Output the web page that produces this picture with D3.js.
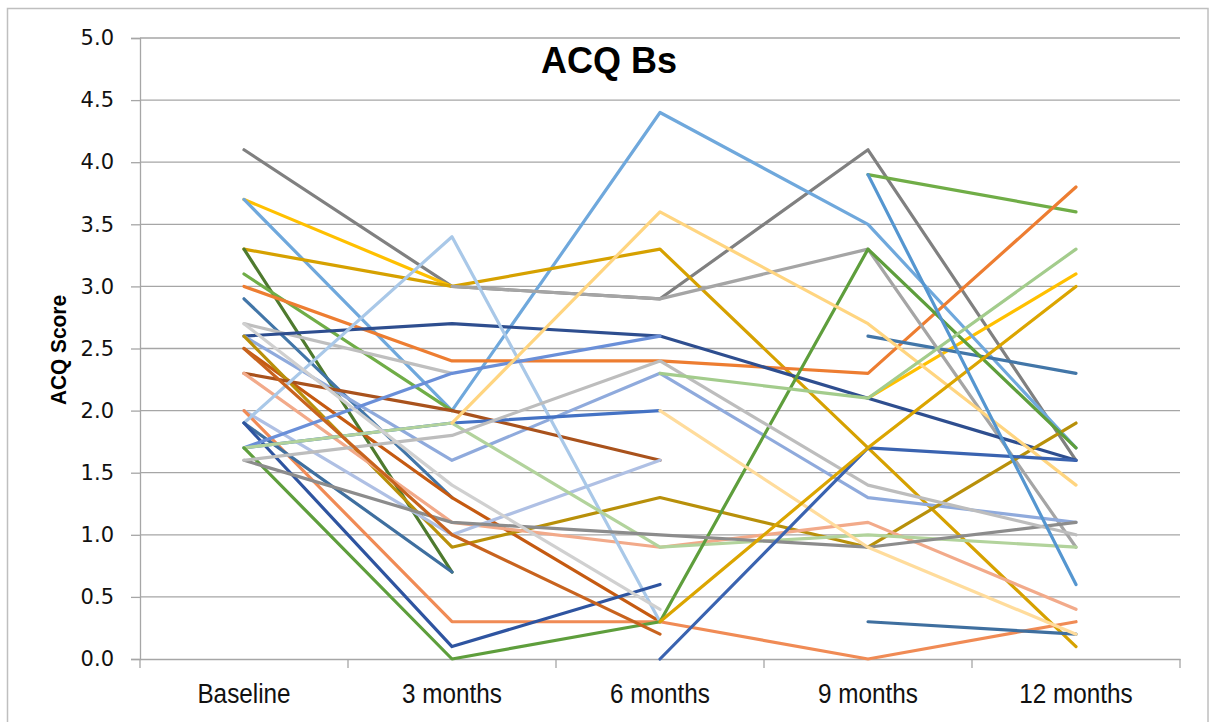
<!DOCTYPE html>
<html>
<head>
<meta charset="utf-8">
<script src="https://cdn.jsdelivr.net/npm/d3@7"></script>
<style>
  html, body { margin: 0; padding: 0; background: #fff; }
  svg { display: block; }
</style>
</head>
<body>
<svg id="chart" width="1210" height="722"></svg>
<script>
// ACQ scores per patient over five visits (null = visit not recorded)
const categories = ["Baseline", "3 months", "6 months", "9 months", "12 months"];
const yTicks = [0, 0.5, 1, 1.5, 2, 2.5, 3, 3.5, 4, 4.5, 5];

const p01 = [4.1, 3.0, 2.9, 4.1, 1.6];
const p02 = [3.7, 3.0, null, 2.1, 3.1];
const p03 = [3.7, 2.0, 4.4, 3.5, 1.7];
const p04 = [3.3, 3.0, 3.3, 1.7, 0.1];
const p05 = [3.3, 0.7, null, null, null];
const p06 = [3.1, 2.0, null, 3.9, 3.6];
const p07 = [3.0, 2.4, 2.4, 2.3, 3.8];
const p08 = [2.9, 1.3, null, 2.6, 2.3];
const p09 = [2.7, 2.3, null, null, null];
const p10 = [null, 3.0, 2.9, 3.3, 0.9];
const p11 = [2.6, 2.7, 2.6, 2.1, 1.6];
const p12 = [2.6, 1.6, 2.3, 1.3, 1.1];
const p13 = [2.5, 1.3, 0.3, null, null];
const p14 = [2.6, 0.9, 1.3, 0.9, 1.9];
const p15 = [2.3, 2.0, 1.6, null, null];
const p16 = [2.3, 1.1, 0.9, 1.1, 0.4];
const p17 = [2.0, 1.0, 1.6, null, null];
const p18 = [2.0, 0.3, 0.3, 0.0, 0.3];
const p19 = [1.9, 3.4, 0.3, null, null];
const p20 = [1.9, 0.7, null, 0.3, 0.2];
const p21 = [1.9, 0.1, 0.6, null, null];
const p22 = [1.7, 1.9, 2.0, null, null];
const p23 = [1.7, 2.3, 2.6, null, null];
const p24 = [1.7, 1.9, 0.9, 1.0, 0.9];
const p25 = [1.7, 0.0, 0.3, 3.3, 1.7];
const p26 = [1.6, 1.1, 1.0, 0.9, 1.1];
const p27 = [1.6, 1.8, 2.4, 1.4, 1.0];
const p28 = [2.7, 1.4, 0.4, null, null];
const p29 = [2.5, 1.0, 0.2, null, null];
const p30 = [null, 1.9, 3.6, 2.7, 1.4];
const p31 = [null, null, 2.0, 0.9, 0.2];
const p32 = [null, null, 0.0, 1.7, 1.6];
const p33 = [null, null, 0.3, 1.7, 3.0];
const p34 = [null, null, 2.3, 2.1, 3.3];
const p35 = [null, null, null, 3.9, 0.6];

const patients = [p01, p02, p03, p04, p05, p06, p07, p08, p09, p10,
                  p11, p12, p13, p14, p15, p16, p17, p18, p19, p20,
                  p21, p22, p23, p24, p25, p26, p27, p28, p29, p30,
                  p31, p32, p33, p34, p35];

const lineColors = [
  "#808080", "#FFC000", "#6FA8DC", "#D6A100", "#4E7A2E", "#70AD47", "#ED7D31",
  "#4276A8", "#BFBFBF", "#A5A5A5", "#2E4E8F", "#8FAADC", "#C55A11", "#B8900A",
  "#A9521C", "#F2AA8A", "#AFC0E4", "#F08B55", "#A9C8E8", "#3F6F9F", "#2E54A0",
  "#4472C4", "#6A8FD8", "#B2D39C", "#5E9E3C", "#8C8C8C", "#BDBDBD", "#D0D0D0",
  "#C8631E", "#FFD580", "#FFDC9C", "#3A63B0", "#DBA500", "#A3CC8C", "#5596D0"
];

const svg = d3.select("#chart");

// chart frame
svg.append("rect")
  .attr("x", 7.5).attr("y", 8.5)
  .attr("width", 1200.5).attr("height", 720)
  .attr("fill", "#fff").attr("stroke", "#BFBFBF").attr("stroke-width", 1.5);

const plot = { left: 140, right: 1180, top: 38, bottom: 659 };

const x = d3.scaleBand().domain(categories).range([plot.left, plot.right]).padding(0);
const xc = c => x(c) + x.bandwidth() / 2;
const y = d3.scaleLinear().domain([0, 5]).range([plot.bottom, plot.top]);

// horizontal gridlines
svg.append("g")
  .selectAll("line")
  .data(yTicks.slice(1))
  .join("line")
  .attr("x1", plot.left).attr("x2", plot.right)
  .attr("y1", d => y(d)).attr("y2", d => y(d))
  .attr("stroke", "#A6A6A6").attr("stroke-width", 1.3);

// y axis
const yAxis = d3.axisLeft(y).tickValues(yTicks).tickFormat(d3.format(".1f")).tickSize(9).tickPadding(17);
const gy = svg.append("g").attr("transform", `translate(${plot.left},0)`).call(yAxis);
gy.select(".domain").attr("stroke", "#A6A6A6").attr("stroke-width", 1.3);
gy.selectAll(".tick line").attr("stroke", "#A6A6A6").attr("stroke-width", 1.3);
gy.selectAll(".tick text")
  .attr("font-family", "DejaVu Sans, Verdana, sans-serif")
  .attr("font-size", 21).attr("fill", "#111");

// x axis with ticks between categories
const xAxis = d3.axisBottom(x).tickSize(0).tickPadding(0);
const gx = svg.append("g").attr("transform", `translate(0,${plot.bottom})`).call(xAxis);
gx.select(".domain").attr("stroke", "#A6A6A6").attr("stroke-width", 1.3);
gx.selectAll(".tick text").remove();
gx.selectAll(".boundary")
  .data(categories.map(c => x(c)).concat([x(categories[categories.length - 1]) + x.bandwidth()]))
  .join("line")
  .attr("class", "boundary")
  .attr("x1", d => d).attr("x2", d => d)
  .attr("y1", 0).attr("y2", 9)
  .attr("stroke", "#A6A6A6").attr("stroke-width", 1.3);
gx.selectAll(".cat")
  .data(categories)
  .join("text")
  .attr("class", "cat")
  .attr("transform", d => `translate(${xc(d)},44) scale(0.9,1)`)
  .attr("text-anchor", "middle")
  .attr("font-family", "Liberation Sans, Arial, sans-serif")
  .attr("font-size", 27).attr("fill", "#111")
  .text(d => d);

// patient lines
const line = d3.line()
  .defined(d => d.v != null)
  .x(d => xc(d.c))
  .y(d => y(d.v));

svg.append("g")
  .selectAll("path")
  .data(patients)
  .join("path")
  .attr("d", vals => line(vals.map((v, i) => ({ c: categories[i], v }))))
  .attr("fill", "none")
  .attr("stroke", (d, i) => lineColors[i])
  .attr("stroke-width", 3.2)
  .attr("stroke-linejoin", "round")
  .attr("stroke-linecap", "round");

// title
svg.append("text")
  .attr("x", 609).attr("y", 73)
  .attr("text-anchor", "middle")
  .attr("font-family", "Liberation Sans, Arial, sans-serif")
  .attr("font-weight", "bold")
  .attr("font-size", 36).attr("fill", "#000")
  .text("ACQ Bs");

// y axis title
svg.append("text")
  .attr("transform", "translate(66,350) rotate(-90) scale(0.95,1)")
  .attr("text-anchor", "middle")
  .attr("font-family", "Liberation Sans, Arial, sans-serif")
  .attr("font-weight", "bold")
  .attr("font-size", 22).attr("fill", "#000")
  .text("ACQ Score");
</script>
</body>
</html>
